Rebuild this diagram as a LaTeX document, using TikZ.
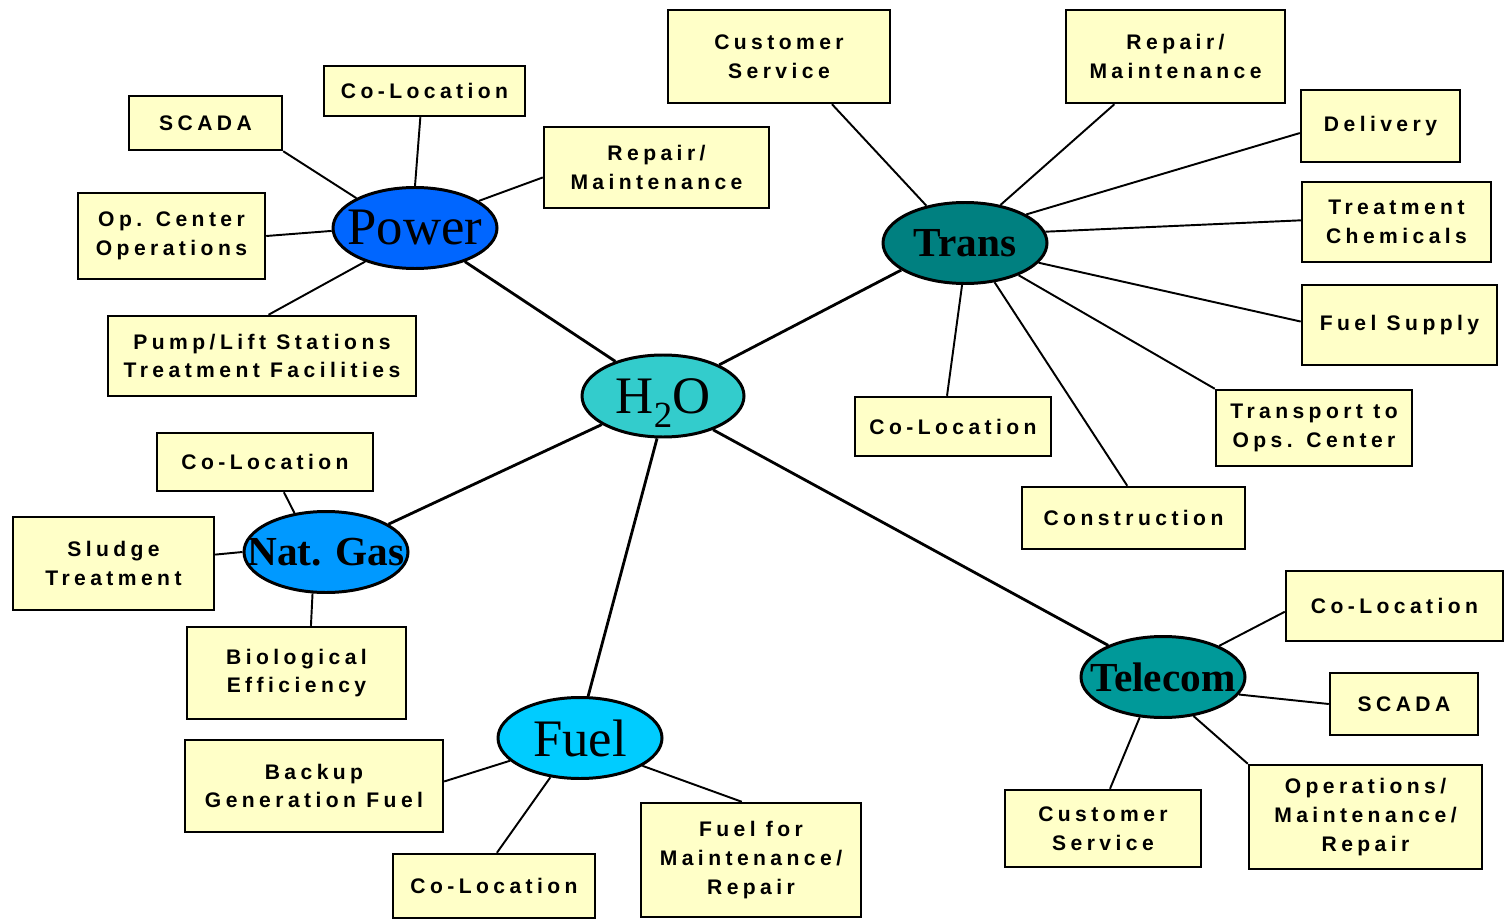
\documentclass[tikz,border=0pt]{standalone}
\usepackage{fontspec}
\setmainfont{Liberation Serif}
\newfontfamily\boxfont[LetterSpace=21]{Liberation Sans}
\usetikzlibrary{shapes.geometric}
\definecolor{boxfill}{HTML}{FFFFC8}
\definecolor{cpower}{HTML}{0066FF}
\definecolor{ch2o}{HTML}{33CCCC}
\definecolor{ctrans}{HTML}{008080}
\definecolor{cgas}{HTML}{0099FF}
\definecolor{ctel}{HTML}{009999}
\definecolor{cfuel}{HTML}{00CCFF}
\newcommand{\hubtext}[1]{\makebox[0pt]{#1}}
\begin{document}
\begin{tikzpicture}[x=0.02cm,y=-0.02cm,
  box/.style 2 args={draw=black, line width=1.4pt, fill=boxfill, align=center, inner sep=0pt,
    minimum width=#1*0.02cm, minimum height=#2*0.02cm,
    font=\boxfont\bfseries\fontsize{12}{16.4}\selectfont},
  hub/.style={ellipse, draw=black, line width=1.7pt, inner sep=0pt,
    minimum width=164*0.02cm, minimum height=81*0.02cm},
  hubreg/.style={hub, font=\fontsize{30}{30}\selectfont},
  hubbold/.style={hub, font=\bfseries\fontsize{23.5}{24}\selectfont},
  spoke/.style={line width=1.1pt},
  mainline/.style={line width=1.6pt}]
\useasboundingbox (0,0) rectangle (1505,919);
% boxes
\node[box={222}{93}] (cs1) at (779,56.5) {Customer\\Service};
\node[box={219}{93}] (rep2) at (1175.5,56.5) {Repair/\\Maintenance};
\node[box={159}{72}] (deliv) at (1380.5,126) {Delivery};
\node[box={189}{80}] (treat) at (1396.5,222) {Treatment\\Chemicals};
\node[box={195}{80}] (fsup) at (1399.5,325) {Fuel Supply};
\node[box={196}{76}] (transp) at (1314,428) {Transport to\\Ops. Center};
\node[box={223}{62}] (constr) at (1133.5,518) {Construction};
\node[box={196}{59}] (colt) at (953,426.5) {Co-Location};
\node[box={153}{54}] (scada1) at (205.5,123) {SCADA};
\node[box={201}{50}] (colp) at (424.5,91) {Co-Location};
\node[box={225}{81}] (rep1) at (656.5,167.5) {Repair/\\Maintenance};
\node[box={187}{86}] (opc) at (171.5,236) {Op. Center\\Operations};
\node[box={308}{80}] (pump) at (262,356) {Pump/Lift Stations\\Treatment Facilities};
\node[box={216}{58}] (colg) at (265,462) {Co-Location};
\node[box={201}{93}] (sludge) at (113.5,563.5) {Sludge\\Treatment};
\node[box={219}{92}] (bio) at (296.5,673) {Biological\\Efficiency};
\node[box={258}{92}] (backup) at (314,786) {Backup\\Generation Fuel};
\node[box={202}{64}] (colf) at (494,886) {Co-Location};
\node[box={220}{114}] (fmaint) at (751,860) {Fuel for\\Maintenance/\\Repair};
\node[box={217}{70}] (coltel) at (1394.5,606) {Co-Location};
\node[box={148}{62}] (scadat) at (1404,704) {SCADA};
\node[box={233}{104}] (ops) at (1365.5,817) {Operations/\\Maintenance/\\Repair};
\node[box={196}{77}] (cstel) at (1103,828.5) {Customer\\Service};
% hubs
\node[hubreg, fill=cpower] (power) at (415,228) {\hubtext{Power}};
\node[hubreg, fill=ch2o, minimum width=162*0.02cm, minimum height=82*0.02cm] (h2o) at (663,396)
  {\hubtext{H\smash{\raisebox{-0.28em}{\fontsize{21}{21}\selectfont 2}}O}};
\node[hubbold, fill=ctrans] (trans) at (965,243) {\hubtext{Trans}};
\node[hubbold, fill=cgas] (gas) at (326,552) {\hubtext{Nat. Gas}};
\node[hubbold, fill=ctel] (tel) at (1163,677) {\hubtext{Telecom}};
\node[hubreg, fill=cfuel] (fuel) at (580,738) {\hubtext{Fuel}};
% power spokes
\draw[spoke] (scada1.south east) -- (power.153);
\draw[spoke] (colp.261) -- (power.90);
\draw[spoke] (rep1.185) -- (power.23);
\draw[spoke] (opc.east) -- (power.182);
\draw[spoke] (pump.81) -- (power.214);
% main lines
\draw[mainline] (power.326) -- (h2o.144);
\draw[mainline] (h2o.29) -- (trans.203);
\draw[mainline] (h2o.205) -- (gas.24);
\draw[mainline] (h2o.262) -- (fuel.79);
\draw[mainline] (h2o.326) -- (tel.150);
% trans spokes
\draw[spoke] (cs1.318) -- (trans.136);
\draw[spoke] (rep2.218) -- (trans.47);
\draw[spoke] (deliv.185) -- (trans.25);
\draw[spoke] (treat.179) -- (trans.8);
\draw[spoke] (fsup.178) -- (trans.345);
\draw[spoke] (transp.north west) -- (trans.329);
\draw[spoke] (constr.101) -- (trans.307);
\draw[spoke] (colt.101) -- (trans.266);
% gas spokes
\draw[spoke] (colg.302) -- (gas.129);
\draw[spoke] (sludge.5) -- (gas.180);
\draw[spoke] (bio.73) -- (gas.252);
% fuel spokes
\draw[spoke] (backup.2) -- (fuel.198);
\draw[spoke] (colf.85) -- (fuel.233);
\draw[spoke] (fmaint.99) -- (fuel.336);
% telecom spokes
\draw[spoke] (coltel.183) -- (tel.29);
\draw[spoke] (scadat.180) -- (tel.347);
\draw[spoke] (ops.north west) -- (tel.308);
\draw[spoke] (cstel.80) -- (tel.240);
\end{tikzpicture}
\end{document}
